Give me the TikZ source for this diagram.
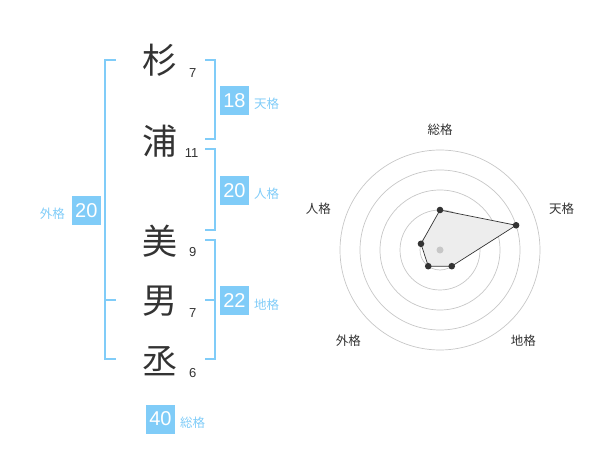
\documentclass[tikz,border=0pt]{standalone}
\usepackage{fontspec}
\setmainfont{Liberation Sans}
\newfontfamily\jp{Noto Sans CJK JP}
\definecolor{brk}{HTML}{80CCF8}
\definecolor{ink}{HTML}{333333}
\begin{document}
\begin{tikzpicture}[x=1pt,y=-1pt,
  kanji/.style={font=\jp\fontsize{35}{35}\selectfont, text=ink, inner sep=0pt},
  strokes/.style={font=\fontsize{13}{13}\selectfont, text=ink, inner sep=0pt},
  valbox/.style={fill=brk, text=white, minimum width=29pt, minimum height=29pt, inner sep=0pt, font=\fontsize{20}{20}\selectfont},
  vlabel/.style={text=brk, font=\jp\fontsize{12.5}{12.5}\selectfont, inner sep=0pt},
  bracket/.style={draw=brk, line width=2pt},
  ring/.style={draw=black!22, line width=0.7pt},
  axlabel/.style={font=\jp\fontsize{12.5}{12.5}\selectfont, text=ink, inner sep=0pt},
  dot/.style={fill=ink, draw=none}]
\useasboundingbox (0,0) rectangle (600,470);

% name characters
\node[kanji] (k1) at (159.5,60) {杉};
\node[kanji] (k2) at (159.5,141) {浦};
\node[kanji] (k3) at (159.5,241.5) {美};
\node[kanji] (k4) at (159.5,301.5) {男};
\node[kanji] (k5) at (159.5,361.5) {丞};

\node[strokes] (s1) at (192.7,72.7) {7};
\node[strokes] (s2) at (191.7,153.3) {11};
\node[strokes] (s3) at (192.7,252.3) {9};
\node[strokes] (s4) at (192.7,312.7) {7};
\node[strokes] (s5) at (192.7,372.7) {6};

% brackets
\draw[bracket] (115.5,60) -- (105,60) -- (105,359.5) -- (115.5,359.5);
\draw[bracket] (105,300) -- (115.5,300);
\draw[bracket] (205,60) -- (214.5,60) -- (214.5,139.5) -- (205,139.5);
\draw[bracket] (205,149.5) -- (214.5,149.5) -- (214.5,230) -- (205,230);
\draw[bracket] (205,240) -- (214.5,240) -- (214.5,359.5) -- (205,359.5);
\draw[bracket] (205,300) -- (214.5,300);

% value boxes
\node[valbox] (ten) at (234.5,100.3) {18};
\node[vlabel, anchor=west] (tenl) at (254,104) {天格};
\node[valbox] (jin) at (234.5,190.2) {20};
\node[vlabel, anchor=west] (jinl) at (254,194) {人格};
\node[valbox] (chi) at (234.5,300.3) {22};
\node[vlabel, anchor=west] (chil) at (254,304.3) {地格};
\node[valbox] (gai) at (86.3,210.3) {20};
\node[vlabel, anchor=east] (gail) at (65,213.5) {外格};
\node[valbox] (sou) at (160.5,419) {40};
\node[vlabel, anchor=west] (soul) at (180,422.5) {総格};

% radar chart
\coordinate (c) at (440,250);
\foreach \r in {20,40,60,80,100} \draw[ring] (c) circle[radius=\r];
\path (c) ++(-90:40) coordinate (p1);
\path (c) ++(-18:80) coordinate (p2);
\path (c) ++(54:20) coordinate (p3);
\path (c) ++(126:20) coordinate (p4);
\path (c) ++(198:20) coordinate (p5);
\draw[fill=black!7, draw=ink, line width=0.7pt, line join=round] (p1) -- (p2) -- (p3) -- (p4) -- (p5) -- cycle;
\fill[black!22] (c) circle[radius=3.5];
\foreach \p in {p1,p2,p3,p4,p5} \fill[dot] (\p) circle[radius=3.3];

\node[axlabel] (a1) at (440,130) {総格};
\node[axlabel] (a2) at (561.7,208.3) {天格};
\node[axlabel] (a3) at (523.3,340.5) {地格};
\node[axlabel] (a4) at (348.3,340.5) {外格};
\node[axlabel] (a5) at (318.3,209) {人格};
\end{tikzpicture}
\end{document}
